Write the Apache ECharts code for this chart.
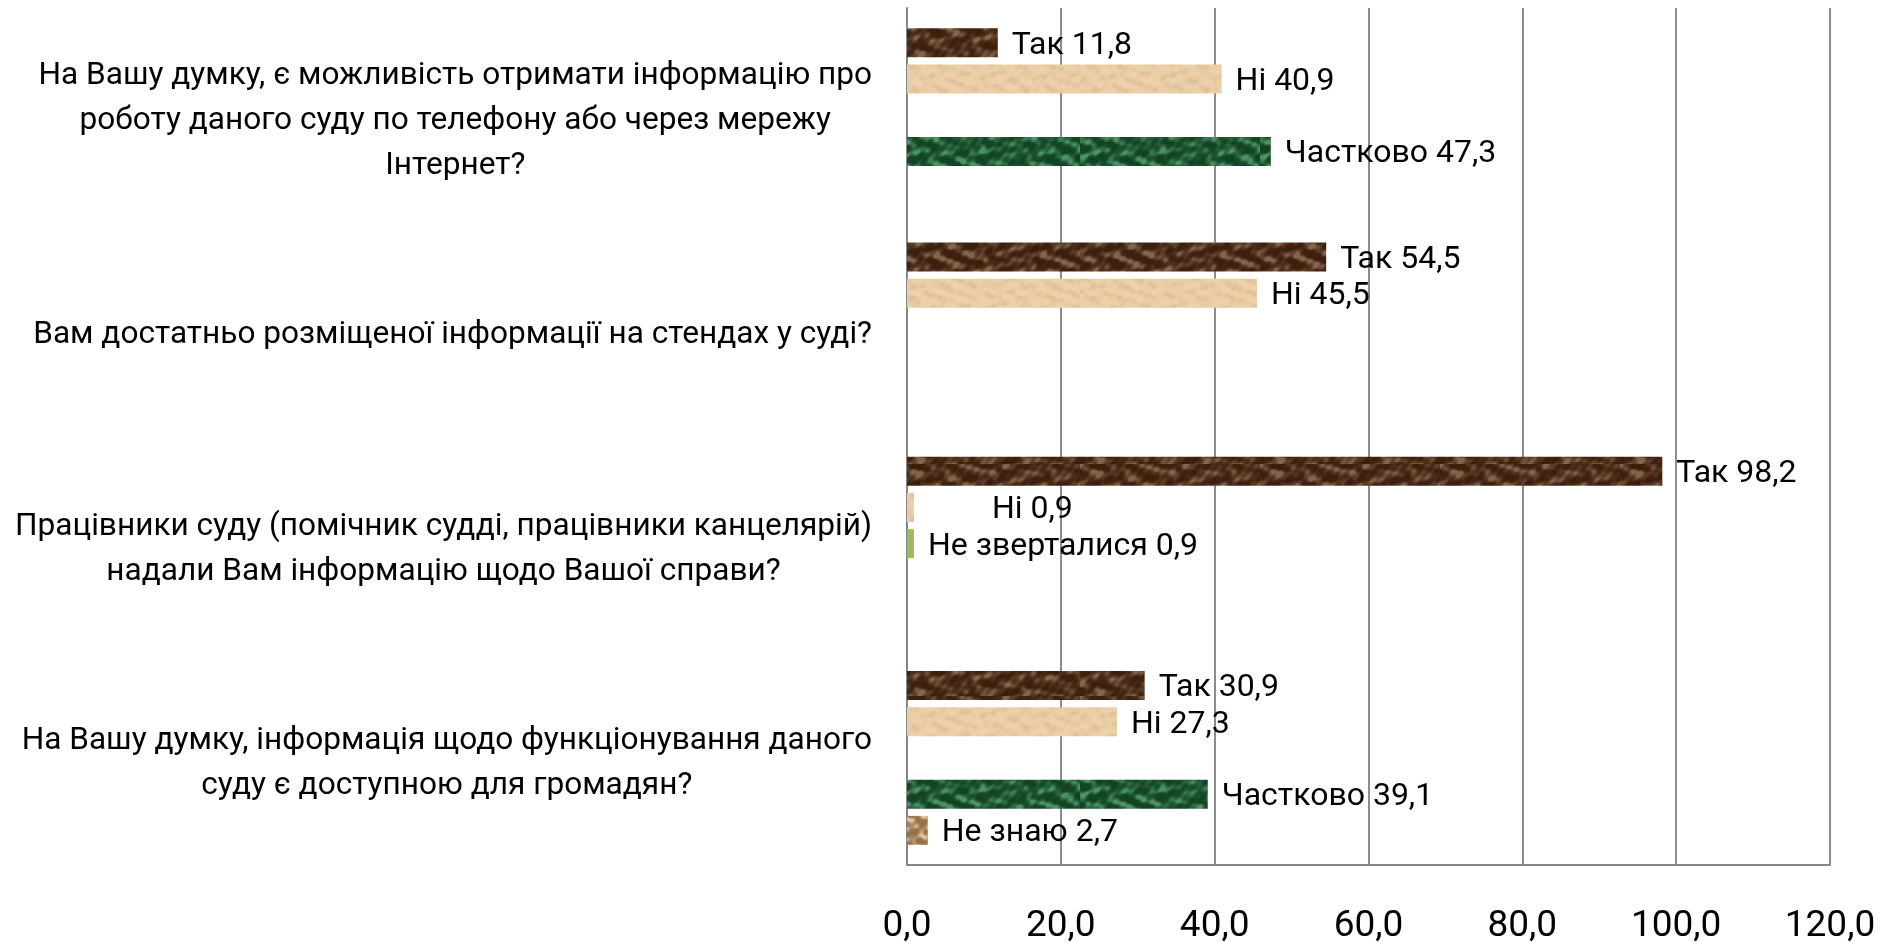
<!DOCTYPE html>
<html>
<head>
<meta charset="utf-8">
<script src="https://cdn.jsdelivr.net/npm/echarts@6/dist/echarts.min.js"></script>
<style>
  html, body { margin: 0; padding: 0; background: #fff; }
  #chart { width: 1893px; height: 942px; }
</style>
</head>
<body>
<div id="chart"></div>
<script>
// питання (зверху вниз)
const categories = [
  'На Вашу думку, є можливість отримати інформацію про\nроботу даного суду по телефону або через мережу\nІнтернет?',
  'Вам достатньо розміщеної інформації на стендах у суді?',
  'Працівники суду (помічник судді, працівники канцелярій)\nнадали Вам інформацію щодо Вашої справи?',
  'На Вашу думку, інформація щодо функціонування даного\nсуду є доступною для громадян?'
];

const seriesNames = ['Так', 'Ні', 'Не зверталися', 'Частково', 'Не знаю'];

const yesValues = [11.8, 54.5, 98.2, 30.9];
const noValues = [40.9, 45.5, 0.9, 27.3];
const notAskedValues = [null, null, 0.9, null];
const partlyValues = [47.3, null, null, 39.1];
const dontKnowValues = [null, null, null, 2.7];

const xMin = 0, xMax = 120, xStep = 20;

// mottled texture so the bars look a bit like the original fills
function texture(c1, c2, k) {
  const cv = document.createElement('canvas');
  cv.width = 180; cv.height = 58;
  const ctx = cv.getContext('2d');
  const img = ctx.createImageData(cv.width, cv.height);
  for (let y = 0; y < cv.height; y++) {
    for (let x = 0; x < cv.width; x++) {
      let t = Math.sin(x * 0.173 * k + Math.cos(y * 0.29) * 2.1)
            + 0.8 * Math.cos(y * 0.41 * k + Math.sin(x * 0.057) * 3.3)
            + 0.6 * Math.sin((x * 0.31 - y * 0.23) * k + Math.cos(x * 0.11 + y * 0.07) * 1.7)
            + 0.4 * Math.cos(x * 0.71 + y * 0.53);
      t = Math.max(0, Math.min(1, (t + 1.6) / 3.4));
      t = t * t;
      const i = (y * cv.width + x) * 4;
      img.data[i] = c1[0] + (c2[0] - c1[0]) * t;
      img.data[i + 1] = c1[1] + (c2[1] - c1[1]) * t;
      img.data[i + 2] = c1[2] + (c2[2] - c1[2]) * t;
      img.data[i + 3] = 255;
    }
  }
  ctx.putImageData(img, 0, 0);
  return { image: cv, repeat: 'repeat' };
}

const fills = [
  texture([60, 32, 14], [132, 100, 74], 1),
  texture([236, 208, 168], [224, 193, 154], 1.3),
  '#9bbb59',
  texture([18, 68, 36], [76, 146, 100], 1.1),
  texture([150, 112, 70], [226, 198, 156], 1.6)
];

const valueLists = [yesValues, noValues, notAskedValues, partlyValues, dontKnowValues];

const font = 'Roboto, "Liberation Sans", sans-serif';
const fmt = v => v.toFixed(1).replace('.', ',');

const chart = echarts.init(document.getElementById('chart'));

chart.setOption({
  animation: false,
  grid: { left: 907, right: 63, top: 8, bottom: 77, outerBoundsMode: 'none' },
  xAxis: {
    type: 'value',
    min: xMin, max: xMax, interval: xStep,
    axisLine: { show: true, lineStyle: { color: '#868686', width: 2 } },
    axisTick: { show: false },
    splitLine: { show: true, lineStyle: { color: '#8c8c8c', width: 2 } },
    axisLabel: {
      formatter: fmt,
      margin: 43,
      color: '#000',
      fontFamily: font,
      fontSize: 37
    }
  },
  yAxis: {
    type: 'category',
    inverse: true,
    data: categories,
    axisLine: { show: true, lineStyle: { color: '#868686', width: 2 } },
    axisTick: { show: false },
    axisLabel: {
      margin: 35,
      align: 'right',
      padding: [12, 0, 0, 0],
      formatter: v => v.split('\n').map(s => '{c|' + s + '}').join('\n'),
      rich: {
        c: {
          align: 'center',
          color: '#000',
          fontFamily: font,
          fontSize: 31.6,
          lineHeight: 45
        }
      }
    }
  },
  series: seriesNames.map((name, si) => ({
    name: name,
    type: 'bar',
    barWidth: 29,
    barGap: '25%',
    itemStyle: { color: fills[si] },
    label: {
      show: true,
      position: 'right',
      distance: 14,
      offset: [0, 3],
      color: '#000',
      fontFamily: font,
      fontSize: 32,
      formatter: p => p.seriesName + ' ' + fmt(p.value)
    },
    data: valueLists[si].map((v, ci) => {
      if (v === null) return '-';
      // the "Ні 0,9" label was moved to the right in the original
      if (si === 1 && ci === 2) return { value: v, label: { offset: [64, 3] } };
      return v;
    })
  }))
});
</script>
</body>
</html>
